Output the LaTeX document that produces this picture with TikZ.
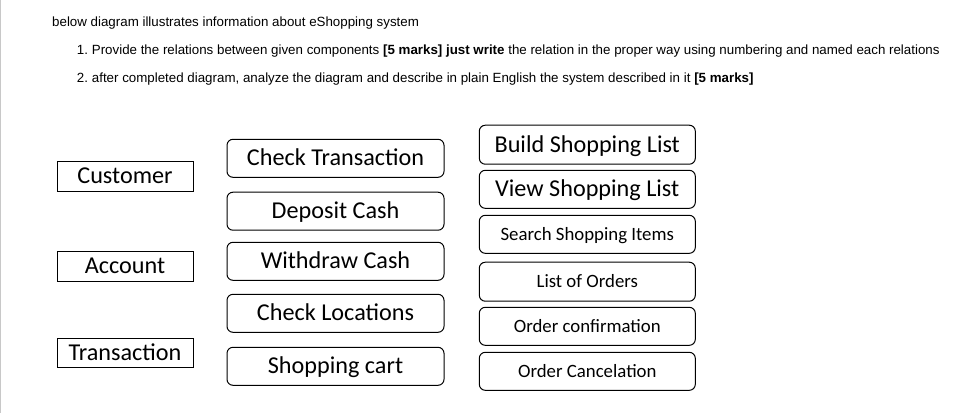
\documentclass[tikz,border=0pt]{standalone}
\usepackage{fontspec}
\setmainfont{Liberation Sans}
\newfontfamily\carlito{Carlito}
\begin{document}
\begin{tikzpicture}[x=1pt,y=-1pt,
  hdr/.style={anchor=base west, inner sep=0pt, font=\fontsize{13.33}{15}\selectfont},
  bigtext/.style={text height=15.3pt, text depth=0pt, font=\carlito\fontsize{24.2}{26}\selectfont},
  smalltext/.style={text height=11.9pt, text depth=0pt, font=\carlito\fontsize{18.8}{21}\selectfont},
  entbox/.style={draw=black, line width=1pt, inner sep=0pt, minimum width=136pt, minimum height=30pt, bigtext},
  midbox/.style={draw=black, line width=1pt, rounded corners=6pt, inner sep=0pt, minimum width=217pt, minimum height=38pt, bigtext},
  rightbox/.style={draw=black, line width=1pt, rounded corners=6pt, inner sep=0pt, minimum width=216pt, minimum height=38pt}
]
\useasboundingbox (0,0) rectangle (962,413);
\fill[white] (0,0) rectangle (962,413);
\draw[draw={rgb,255:red,200;green,200;blue,200}, line width=1pt] (0.5,0) -- (0.5,413);

% header text
\node[hdr] (h1) at (52,26) {below diagram illustrates information about eShopping system};
\node[hdr] (n1) at (76.7,54) {1.};
\node[hdr] (h2) at (91.7,54) {Provide the relations between given components \textbf{[5 marks] just write} the relation in the proper way using numbering and named each relations};
\node[hdr] (n2) at (76.7,82) {2.};
\node[hdr] (h3) at (91.7,82) {after completed diagram, analyze the diagram and describe in plain English the system described in it \textbf{[5 marks]}};

% entities
\node[entbox] (customer) at (125,176) {Customer};
\node[entbox] (account) at (125,266) {Account};
\node[entbox, minimum height=29pt] (transaction) at (125,352.5) {Transaction};

% middle column
\node[midbox] (checktr) at (335.5,158.3) {Check Transaction};
\node[midbox] (deposit) at (335.5,211.2) {Deposit Cash};
\node[midbox] (withdraw) at (335.5,261.3) {Withdraw Cash};
\node[midbox] (checkloc) at (335.5,313.3) {Check Locations};
\node[midbox] (cart) at (335.5,366.3) {Shopping cart};

% right column
\node[rightbox, bigtext, minimum height=39pt] (build) at (587.3,144.7) {Build Shopping List};
\node[rightbox, bigtext] (view) at (587.3,189.3) {View Shopping List};
\node[rightbox, smalltext] (search) at (587.3,234.3) {Search Shopping Items};
\node[rightbox, smalltext, minimum height=39pt] (orders) at (587.3,281.7) {List of Orders};
\node[rightbox, smalltext] (confirm) at (587.3,326.3) {Order confirmation};
\node[rightbox, smalltext] (cancel) at (587.3,371.3) {Order Cancelation};
\end{tikzpicture}
\end{document}
